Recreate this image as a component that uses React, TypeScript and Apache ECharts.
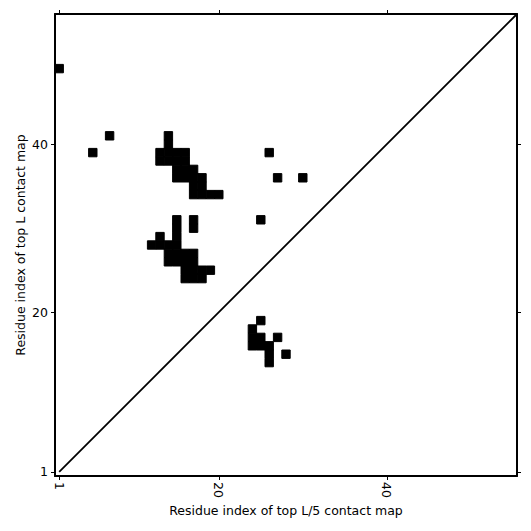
import React, { useEffect, useRef } from "react";
import * as echarts from "echarts";

// Contact cells: [x residue (top L/5 map), y residue (top L map)]
const isolatedCells: [number, number][] = [
  [1, 49], [7, 41], [5, 39], [26, 39], [27, 36], [30, 36], [25, 31],
];
const clusterA: [number, number][] = [
  [14, 41], [14, 40],
  [13, 39], [14, 39], [15, 39], [16, 39],
  [13, 38], [14, 38], [15, 38], [16, 38],
  [15, 37], [16, 37], [17, 37],
  [15, 36], [16, 36], [17, 36], [18, 36],
  [17, 35], [18, 35],
  [17, 34], [18, 34], [19, 34], [20, 34],
];
const clusterB: [number, number][] = [
  [15, 31], [17, 31],
  [15, 30], [17, 30],
  [13, 29], [15, 29],
  [12, 28], [13, 28], [14, 28], [15, 28],
  [14, 27], [15, 27], [16, 27], [17, 27],
  [14, 26], [15, 26], [16, 26], [17, 26],
  [16, 25], [17, 25], [18, 25], [19, 25],
  [16, 24], [17, 24], [18, 24],
];
const clusterC: [number, number][] = [
  [25, 19],
  [24, 18],
  [24, 17], [25, 17], [27, 17],
  [24, 16], [25, 16], [26, 16],
  [26, 15], [28, 15],
  [26, 14],
];
const diagonal: [number, number][] = [[1, 1], [55.5, 55.5]];
const tickValues = [1, 20, 40];
const axisMin = 0.5;
const axisMax = 55.5;

const FONT = "DejaVu Sans";

export default function App() {
  const ref = useRef<HTMLDivElement>(null);
  useEffect(() => {
    if (!ref.current) return;
    const chart = echarts.init(ref.current, null, { renderer: "svg" });
    const cells = [...isolatedCells, ...clusterA, ...clusterB, ...clusterC];
    const lineStyle = { color: "#000", width: 2 };
    const tick = { show: true, inside: false, length: 4, lineStyle: { color: "#000", width: 1 }, customValues: tickValues };
    chart.setOption({
      animation: false,
      backgroundColor: "#fff",
      grid: { left: 55, top: 14, width: 462, height: 462, containLabel: false },
      xAxis: [
        {
          type: "value", min: axisMin, max: axisMax, position: "bottom",
          axisLine: { show: true, lineStyle },
          axisTick: tick,
          splitLine: { show: false },
          axisLabel: { show: true, customValues: tickValues, rotate: -90, color: "#000", fontFamily: FONT, fontSize: 12.5, margin: 6 },
          name: "Residue index of top L/5 contact map",
          nameLocation: "middle", nameGap: 28, nameMoveOverlap: false,
          nameTextStyle: { color: "#000", fontFamily: FONT, fontSize: 12.5 },
        },
        {
          type: "value", min: axisMin, max: axisMax, position: "top",
          axisLine: { show: true, lineStyle },
          axisTick: tick,
          splitLine: { show: false },
          axisLabel: { show: false },
        },
      ],
      yAxis: [
        {
          type: "value", min: axisMin, max: axisMax, position: "left",
          axisLine: { show: true, lineStyle },
          axisTick: tick,
          splitLine: { show: false },
          axisLabel: { show: true, customValues: tickValues, color: "#000", fontFamily: FONT, fontSize: 12.5, margin: 7 },
          name: "Residue index of top L contact map",
          nameLocation: "middle", nameGap: 28, nameMoveOverlap: false,
          nameTextStyle: { color: "#000", fontFamily: FONT, fontSize: 12.5 },
        },
        {
          type: "value", min: axisMin, max: axisMax, position: "right",
          axisLine: { show: true, lineStyle },
          axisTick: tick,
          splitLine: { show: false },
          axisLabel: { show: false },
        },
      ],
      series: [
        {
          type: "custom",
          xAxisIndex: 0, yAxisIndex: 0,
          data: cells,
          clip: true,
          renderItem: (_params: any, api: any) => {
            const x = api.value(0);
            const y = api.value(1);
            const p1 = api.coord([x - 0.5, y + 0.5]);
            const p2 = api.coord([x + 0.5, y - 0.5]);
            return {
              type: "rect",
              shape: { x: p1[0], y: p1[1], width: p2[0] - p1[0], height: p2[1] - p1[1] },
              style: { fill: "#000", stroke: "#000", lineWidth: 1 },
            };
          },
        },
        {
          type: "line",
          xAxisIndex: 0, yAxisIndex: 0,
          data: diagonal,
          symbol: "none",
          lineStyle: { color: "#000", width: 1.8 },
          z: 3,
        },
      ],
    });
    return () => chart.dispose();
  }, []);
  return (
    <div
      ref={ref}
      style={{ position: "absolute", left: 0, top: 0, width: 531, height: 531 }}
    />
  );
}
